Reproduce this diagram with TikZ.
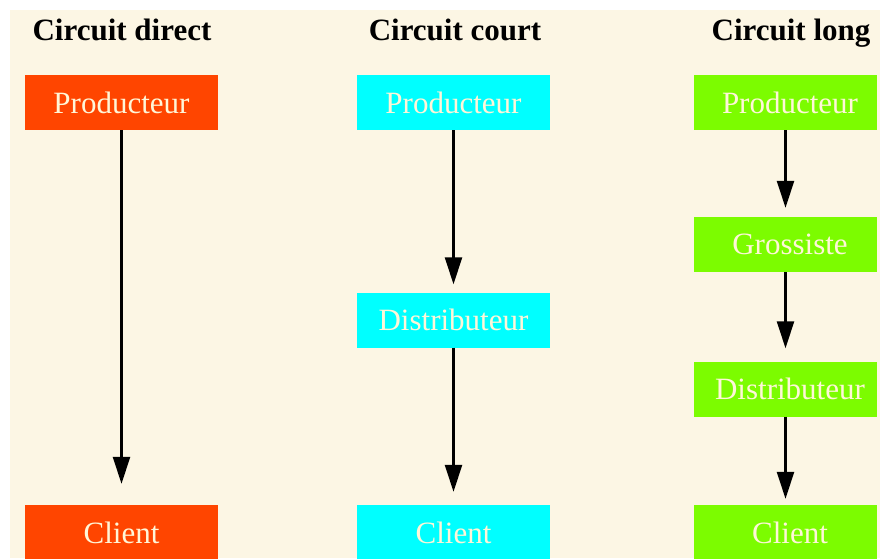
\documentclass[tikz,border=0pt]{standalone}
\usepackage{fontspec}
\setmainfont{Liberation Serif}
\usetikzlibrary{arrows.meta}
\definecolor{bgcream}{HTML}{FCF6E4}
\definecolor{txtcream}{HTML}{FFF6D8}
\definecolor{cred}{HTML}{FF4500}
\definecolor{ccyan}{HTML}{00FFFF}
\definecolor{cgreen}{HTML}{7CFC00}
\begin{document}
\begin{tikzpicture}[x=1pt,y=-1pt,
  header/.style={font=\fontsize{31}{36}\selectfont\bfseries, text=black, inner sep=0pt, anchor=base},
  boxnode/.style={rectangle, minimum width=193pt, minimum height=55pt, inner sep=0pt,
     text=txtcream, font=\fontsize{31}{36}\selectfont},
  redbox/.style={boxnode, fill=cred},
  cyanbox/.style={boxnode, fill=ccyan},
  greenbox/.style={boxnode, fill=cgreen, minimum width=183pt, execute at begin node={\hspace*{9pt}}},
  arr/.style={line width=2.4pt, -{Triangle[length=27pt,width=17pt]}}]
\useasboundingbox (0,0) rectangle (880,558);
\fill[white] (0,0) rectangle (880,558);
\fill[bgcream] (10,10) rectangle (880,558);
% headers
\node[header] (h1) at (122,40) {Circuit direct};
\node[header] (h2) at (455,40) {Circuit court};
\node[header] (h3) at (791,40) {Circuit long};
% column 1
\node[redbox] (p1) at (121.5,102.5) {Producteur};
\node[redbox] (c1) at (121.5,532.5) {Client};
% column 2
\node[cyanbox] (p2) at (453.5,102.5) {Producteur};
\node[cyanbox] (d2) at (453.5,320) {Distributeur};
\node[cyanbox] (c2) at (453.5,532.5) {Client};
% column 3
\node[greenbox] (p3) at (785.5,102.5) {Producteur};
\node[greenbox] (g3) at (785.5,244.5) {Grossiste};
\node[greenbox] (d3) at (785.5,389) {Distributeur};
\node[greenbox] (c3) at (785.5,532.5) {Client};
% arrows
\draw[arr, shorten >=21pt] (p1.south) -- (c1.north);
\draw[arr, shorten >=8pt] (p2.south) -- (d2.north);
\draw[arr, shorten >=13pt] (d2.south) -- (c2.north);
\draw[arr, shorten >=9pt] (p3.south) -- (g3.north);
\draw[arr, shorten >=13pt] (g3.south) -- (d3.north);
\draw[arr, shorten >=6pt] (d3.south) -- (c3.north);
\end{tikzpicture}
\end{document}
